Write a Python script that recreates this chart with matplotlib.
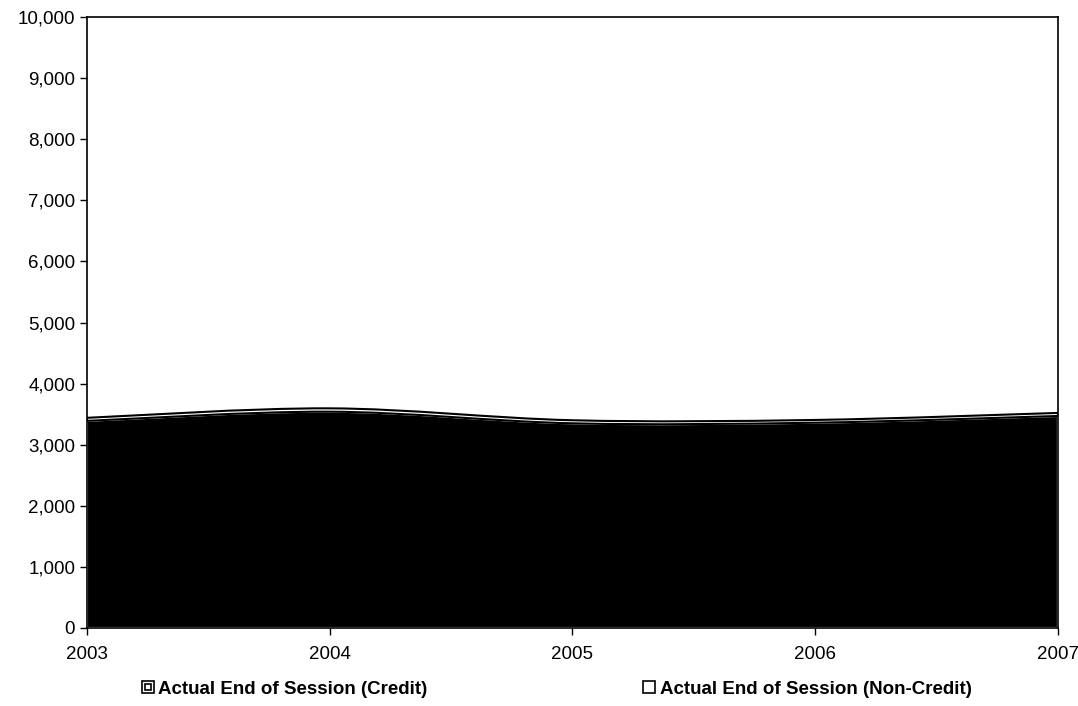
import matplotlib
matplotlib.use("Agg")
import matplotlib.pyplot as plt
import numpy as np
from matplotlib.path import Path
from matplotlib.patches import PathPatch
from matplotlib.lines import Line2D
from matplotlib.legend_handler import HandlerTuple
from matplotlib.ticker import FuncFormatter

years = [2003, 2004, 2005, 2006, 2007]
credit = [3390, 3540, 3350, 3360, 3470]
noncredit = [50, 55, 50, 45, 50]
series_names = ["Actual End of Session (Credit)", "Actual End of Session (Non-Credit)"]

plt.rcParams['font.family'] = ['Liberation Sans', 'DejaVu Sans']

def smooth_verts(xs, ys):
    xs = np.asarray(xs, float); ys = np.asarray(ys, float)
    n = len(xs)
    verts = [(xs[0], ys[0])]
    for i in range(n - 1):
        p0 = (xs[max(i-1, 0)], ys[max(i-1, 0)])
        p1 = (xs[i], ys[i]); p2 = (xs[i+1], ys[i+1])
        p3 = (xs[min(i+2, n-1)], ys[min(i+2, n-1)])
        c1 = (p1[0] + (p2[0]-p0[0])/6, p1[1] + (p2[1]-p0[1])/6)
        c2 = (p2[0] - (p3[0]-p1[0])/6, p2[1] - (p3[1]-p1[1])/6)
        verts += [c1, c2, p2]
    codes = [Path.MOVETO] + [Path.CURVE4]*(len(verts)-1)
    return verts, codes

def area(ax, xs, lower, upper, fc, ec, lw, z):
    vu, cu = smooth_verts(xs, upper)
    vl, cl = smooth_verts(xs[::-1], lower[::-1])
    verts = vu + [vl[0]] + vl[1:] + [vu[0]]
    codes = cu + [Path.LINETO] + cl[1:] + [Path.CLOSEPOLY]
    ax.add_patch(PathPatch(Path(verts, codes), facecolor=fc, edgecolor=ec, lw=lw, zorder=z))

fig = plt.figure(figsize=(10.78, 7.06), dpi=100)
ax = fig.add_axes([0.0807, 0.1105, 0.9007, 0.8654])

zeros = [0]*len(years)
total = [c + n for c, n in zip(credit, noncredit)]
area(ax, years, zeros, credit, 'black', 'white', 1.5, 2)
area(ax, years, credit, total, 'white', 'black', 1.5, 3)

ax.set_xlim(2003, 2007)
ax.set_ylim(0, 10000)
ax.set_xticks(years)
ax.set_yticks(range(0, 10001, 1000))
ax.yaxis.set_major_formatter(FuncFormatter(lambda v, p: f"{int(v):,}"))
ax.tick_params(axis='both', direction='out', length=5, width=1, labelsize=13.5, colors='black')
ax.tick_params(axis='x', pad=8)
for s in ax.spines.values():
    s.set_linewidth(1.2)
    s.set_color('black')

h1 = (Line2D([], [], marker='s', ls='none', markersize=8.5, markerfacecolor='white', markeredgecolor='black', markeredgewidth=1.2),
      Line2D([], [], marker='s', ls='none', markersize=4, markerfacecolor='white', markeredgecolor='black', markeredgewidth=1.2))
h2 = Line2D([], [], marker='s', ls='none', markersize=8.5, markerfacecolor='white', markeredgecolor='black', markeredgewidth=1.2)
leg = fig.legend([h1, h2], series_names, loc='center', bbox_to_anchor=(0.516, 0.024), ncol=2,
                 frameon=False, handler_map={tuple: HandlerTuple(ndivide=1, pad=0)},
                 prop={'weight': 'bold', 'size': 13.5}, columnspacing=11.5, handlelength=0.7, handletextpad=0.2)

fig.savefig("out.png", dpi=100)
